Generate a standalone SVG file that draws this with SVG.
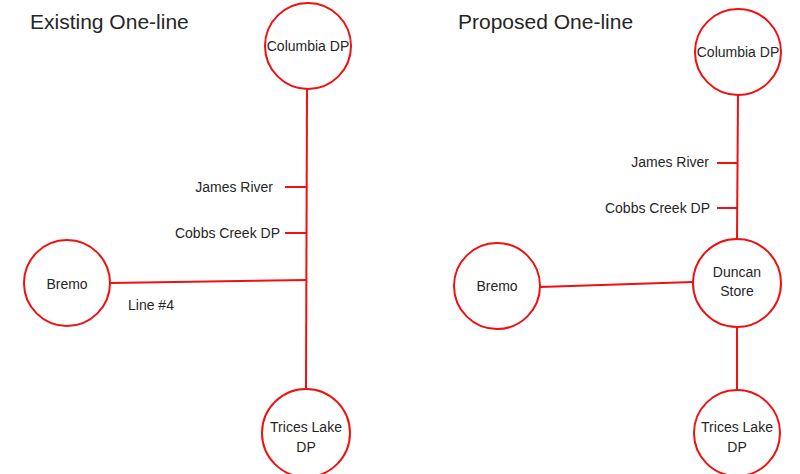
<svg xmlns="http://www.w3.org/2000/svg" width="800" height="474" viewBox="0 0 800 474">
<style>
.n{fill:#fff;stroke:#f01010;stroke-width:2}
.c line{stroke:#f01010;stroke-width:2}
text{font-family:"Liberation Sans",Arial,sans-serif;fill:#262626}
.l{font-size:14px}
.t{font-size:21px}
.m{text-anchor:middle}
.e{text-anchor:end}
</style>
<rect width="800" height="474" fill="#fff"/>
<text class="t" x="30" y="29">Existing One-line</text>
<text class="t" x="458" y="29">Proposed One-line</text>
<g class="c" id="connectors">
<line x1="307" y1="89" x2="306" y2="390"/>
<line x1="285" y1="187" x2="307" y2="187"/>
<line x1="285" y1="233" x2="307" y2="233"/>
<line x1="110" y1="283" x2="307" y2="280"/>
<line x1="738" y1="95" x2="737" y2="239"/>
<line x1="717" y1="163" x2="737" y2="163"/>
<line x1="717" y1="208" x2="737" y2="208"/>
<line x1="540" y1="287" x2="693" y2="282"/>
<line x1="737" y1="327" x2="737" y2="390"/>
</g>
<g id="existing-labels">
<text class="l e" x="273" y="192">James River</text>
<text class="l e" x="280" y="238">Cobbs Creek DP</text>
<text class="l" x="128" y="310">Line #4</text>
</g>
<g id="proposed-labels">
<text class="l e" x="709" y="167">James River</text>
<text class="l e" x="710" y="213">Cobbs Creek DP</text>
</g>
<g id="columbia-existing"><circle class="n" cx="308" cy="46" r="43"/><text class="l m" x="308" y="51">Columbia DP</text></g>
<g id="bremo-existing"><circle class="n" cx="67" cy="283" r="43"/><text class="l m" x="67" y="289">Bremo</text></g>
<g id="trices-existing"><circle class="n" cx="306" cy="433" r="44"/><text class="l m" x="306" y="432">Trices Lake</text><text class="l m" x="306" y="452">DP</text></g>
<g id="columbia-proposed"><circle class="n" cx="738" cy="52" r="43"/><text class="l m" x="738" y="57">Columbia DP</text></g>
<g id="bremo-proposed"><circle class="n" cx="497" cy="286" r="43"/><text class="l m" x="497" y="291">Bremo</text></g>
<g id="duncan-proposed"><circle class="n" cx="737" cy="283" r="44"/><text class="l m" x="737" y="277">Duncan</text><text class="l m" x="737" y="296">Store</text></g>
<g id="trices-proposed"><circle class="n" cx="737" cy="433" r="43"/><text class="l m" x="737" y="432">Trices Lake</text><text class="l m" x="737" y="452">DP</text></g>
</svg>
